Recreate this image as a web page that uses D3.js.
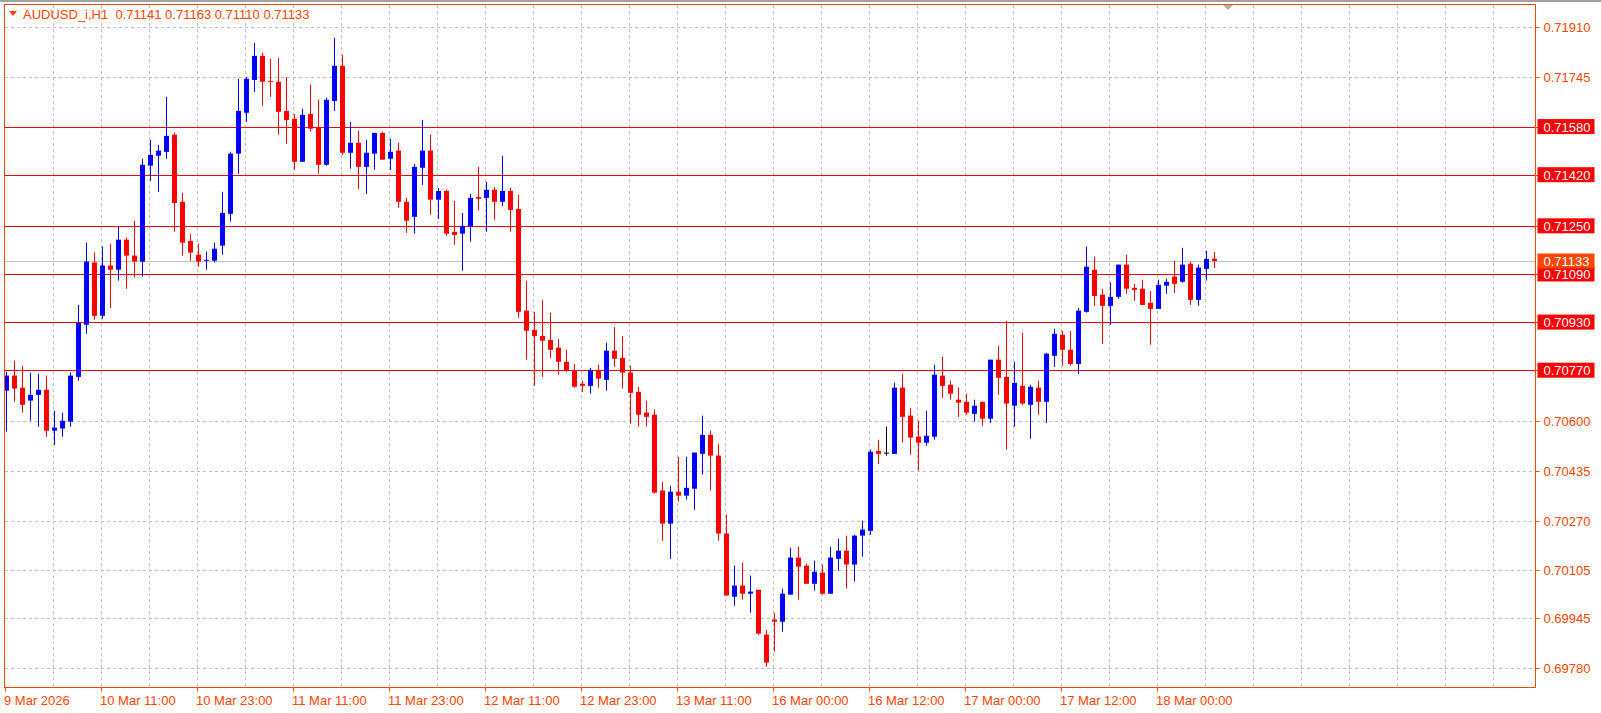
<!DOCTYPE html>
<html>
<head>
<meta charset="UTF-8">
<title>AUDUSD_i,H1</title>
<script src="https://d3js.org/d3.v7.min.js"></script>
<style>
    body { margin: 0; background: #fff; }
    text { font-family: "Liberation Sans", Arial, sans-serif; font-size: 13px; }
    .grid line { stroke: #c0c0c0; stroke-dasharray: 3 3; shape-rendering: crispEdges; }
</style>
</head>
<body>
<div id="chart"></div>
<script>
// OHLC in points (price * 100000), one hourly bar each
const opens = [70702,70752,70712,70669,70688,70705,70569,70576,70599,70748,70921,71128,70951,71118,71104,71204,71151,71131,71450,71483,71496,71553,71330,71200,71154,71134,71134,71184,71290,71490,71626,71735,71815,71732,71729,71632,71606,71463,71622,71576,71453,71665,71782,71493,71526,71446,71490,71559,71473,71500,71330,71280,71443,71500,71337,71366,71230,71224,71247,71346,71343,71370,71330,71366,71306,70968,70904,70884,70871,70845,70798,70768,70725,70718,70771,70738,70835,70811,70762,70698,70629,70622,70370,70260,70366,70353,70376,70492,70555,70486,70227,70017,70054,70027,70040,69891,69941,69934,70024,70147,70120,70060,70097,70027,70143,70170,70124,70220,70236,70502,70496,70492,70712,70619,70549,70529,70549,70752,70722,70672,70665,70625,70665,70609,70805,70748,70652,70718,70655,70712,70665,70818,70888,70838,70791,70964,71104,71021,70984,71014,71121,71044,71041,70994,70974,71051,71081,71064,71124,71004,71107,71141];
const highs = [70765,70802,70785,70762,70758,70752,70635,70629,70762,70987,71194,71161,71181,71191,71248,71211,71267,71473,71536,71519,71679,71559,71360,71224,71191,71164,71194,71363,71496,71739,71745,71858,71825,71805,71808,71745,71622,71639,71719,71669,71676,71875,71818,71596,71566,71536,71559,71563,71539,71526,71343,71456,71602,71553,71376,71370,71333,71293,71356,71446,71396,71380,71483,71376,71353,71068,70964,71004,70961,70874,70838,70791,70735,70778,70788,70861,70914,70884,70785,70715,70669,70639,70399,70386,70482,70482,70496,70619,70569,70526,70290,70120,70130,70087,70040,69907,69964,70044,70180,70183,70127,70137,70124,70183,70210,70220,70223,70270,70506,70539,70582,70728,70758,70645,70602,70635,70788,70815,70735,70712,70692,70672,70665,70805,70851,70934,70798,70894,70722,70735,70828,70908,70901,70901,70977,71181,71147,71041,71061,71121,71154,71057,71071,71034,71071,71074,71134,71177,71131,71121,71167,71163];
const lows = [70566,70665,70629,70602,70582,70549,70522,70549,70582,70735,70891,70938,70941,70977,71068,71041,71078,71081,71400,71363,71473,71230,71151,71134,71114,71104,71128,71154,71264,71423,71596,71695,71649,71679,71553,71523,71436,71463,71563,71423,71450,71632,71486,71440,71373,71356,71436,71470,71436,71310,71227,71224,71386,71287,71273,71217,71187,71101,71197,71300,71230,71270,71316,71230,70944,70805,70718,70748,70811,70755,70765,70712,70698,70692,70712,70702,70781,70709,70592,70582,70582,70360,70203,70143,70333,70340,70306,70423,70370,70203,70021,69987,70007,69964,69891,69784,69834,69901,70024,70007,70060,70037,70024,70027,70104,70044,70067,70150,70223,70459,70486,70492,70529,70489,70436,70519,70539,70678,70672,70615,70622,70599,70585,70595,70688,70506,70582,70655,70542,70622,70595,70781,70785,70785,70758,70961,70984,70858,70921,71007,71024,71001,70987,70855,70974,71024,71027,71061,70987,70984,71068,71110];
const closes = [70752,70709,70655,70688,70705,70569,70579,70602,70752,70928,71131,70951,71118,71104,71204,71151,71131,71453,71486,71500,71549,71326,71194,71161,71131,71137,71174,71293,71490,71632,71739,71815,71729,71729,71629,71602,71463,71619,71573,71453,71669,71782,71493,71526,71446,71493,71559,71470,71496,71330,71267,71446,71500,71337,71366,71224,71220,71250,71343,71340,71370,71330,71366,71303,70964,70901,70884,70868,70838,70798,70768,70715,70718,70771,70742,70835,70808,70762,70695,70622,70615,70363,70260,70366,70353,70379,70496,70555,70486,70227,70021,70054,70027,70034,69894,69798,69934,70027,70147,70117,70060,70100,70027,70147,70170,70124,70220,70240,70499,70492,70496,70712,70615,70546,70529,70552,70755,70718,70692,70662,70629,70652,70609,70805,70745,70659,70728,70659,70715,70665,70825,70891,70838,70791,70968,71114,71017,70984,71014,71121,71041,71037,70987,70974,71054,71064,71057,71121,71004,71111,71140,71133];

const priceTicks = [0.71910,0.71745,0.71580,0.71420,0.71250,0.71090,0.70930,0.70770,0.70600,0.70435,0.70270,0.70105,0.69945,0.69780];
const levelLines = [0.71580,0.71420,0.71250,0.71090,0.70930,0.70770];
const bidPrice = 0.71133;
const timeLabels = ["9 Mar 2026","10 Mar 11:00","10 Mar 23:00","11 Mar 11:00","11 Mar 23:00","12 Mar 11:00","12 Mar 23:00","13 Mar 11:00","16 Mar 00:00","16 Mar 12:00","17 Mar 00:00","17 Mar 12:00","18 Mar 00:00"];
const labelEvery = 12;
const gridEvery = 6;

const width = 1601, height = 713;
const plotLeft = 4.5, plotTop = 4.5, plotRight = 1535.5, plotBottom = 687.5;
const fg = "#ff4500";

const bars = opens.map((o, i) => ({
    i: i, o: o / 1e5, h: highs[i] / 1e5, l: lows[i] / 1e5, c: closes[i] / 1e5
}));

const svg = d3.select("#chart").append("svg")
    .attr("width", width).attr("height", height);

const x = d3.scaleLinear().domain([0, 151]).range([6, 1214]);
const y = d3.scaleLinear().domain([0.69780, 0.71910]).range([668, 27.3]);

// top grey strip
svg.append("rect").attr("x", 0).attr("y", 0).attr("width", width).attr("height", 2).attr("fill", "#a0a0a0");

// grid
const grid = svg.append("g").attr("class", "grid");
grid.selectAll(".h").data(priceTicks).join("line").attr("class", "h")
    .attr("x1", plotLeft).attr("x2", plotRight)
    .attr("y1", d => Math.round(y(d)) + 0.5).attr("y2", d => Math.round(y(d)) + 0.5);
grid.selectAll(".v").data(d3.range(gridEvery, 190, gridEvery).filter(d => x(d) < plotRight)).join("line").attr("class", "v")
    .attr("x1", d => Math.round(x(d)) - 0.5).attr("x2", d => Math.round(x(d)) - 0.5)
    .attr("y1", plotTop).attr("y2", plotBottom);

// level lines
svg.append("g").selectAll("line").data(levelLines).join("line")
    .attr("x1", plotLeft).attr("x2", plotRight)
    .attr("y1", d => Math.round(y(d)) + 0.5).attr("y2", d => Math.round(y(d)) + 0.5)
    .attr("stroke", "#ff0000").attr("stroke-width", 1.2);

svg.append("line")
    .attr("x1", plotLeft).attr("x2", plotRight)
    .attr("y1", Math.round(y(bidPrice)) + 0.5).attr("y2", Math.round(y(bidPrice)) + 0.5)
    .attr("stroke", "#c0c0c0");

// candles
const colorOf = d => d.c > d.o ? "#0000ff" : (d.c < d.o ? "#ff0000" : "#000000");
const candles = svg.append("g").selectAll("g").data(bars).join("g");
candles.append("line")
    .attr("x1", d => Math.round(x(d.i)) + 0.5).attr("x2", d => Math.round(x(d.i)) + 0.5)
    .attr("y1", d => y(d.h)).attr("y2", d => y(d.l))
    .attr("stroke", colorOf).attr("stroke-width", 1);
candles.append("rect")
    .attr("x", d => Math.round(x(d.i)) - 2)
    .attr("y", d => y(Math.max(d.o, d.c)))
    .attr("width", 5)
    .attr("height", d => Math.max(1, Math.abs(y(d.o) - y(d.c))))
    .attr("fill", colorOf);

// frame
svg.append("rect").attr("x", plotLeft).attr("y", plotTop)
    .attr("width", plotRight - plotLeft).attr("height", plotBottom - plotTop)
    .attr("fill", "none").attr("stroke", fg);

// price axis
const yAxis = svg.append("g").attr("transform", `translate(${plotRight},0)`);
yAxis.selectAll(".tk").data(priceTicks).join("line").attr("class", "tk")
    .attr("x1", 0).attr("x2", 4)
    .attr("y1", d => Math.round(y(d)) + 0.5).attr("y2", d => Math.round(y(d)) + 0.5)
    .attr("stroke", fg);
yAxis.selectAll(".lb").data(priceTicks).join("text").attr("class", "lb")
    .attr("x", 8).attr("y", d => y(d) + 5)
    .attr("fill", fg).text(d => d.toFixed(5));

// price labels
const tags = levelLines.map(p => ({ p: p, bg: "#ff0000" })).concat([{ p: bidPrice, bg: "#ff4500" }]);
const tag = yAxis.selectAll(".tag").data(tags).join("g").attr("class", "tag");
tag.append("rect").attr("x", 2).attr("y", d => y(d.p) - 7.5)
    .attr("width", 57).attr("height", 15).attr("fill", d => d.bg);
tag.append("text").attr("x", 8).attr("y", d => y(d.p) + 5)
    .attr("fill", "#ffffff").text(d => d.p.toFixed(5));

// time axis
const xAxis = svg.append("g").attr("transform", `translate(0,${plotBottom})`);
xAxis.selectAll("line").data(timeLabels).join("line")
    .attr("x1", (d, k) => Math.round(x(k * labelEvery)) - 0.5).attr("x2", (d, k) => Math.round(x(k * labelEvery)) - 0.5)
    .attr("y1", 0).attr("y2", 4).attr("stroke", fg);
xAxis.selectAll("text").data(timeLabels).join("text")
    .attr("x", (d, k) => x(k * labelEvery) - 2).attr("y", 17)
    .attr("fill", fg).text(d => d);

// header
svg.append("path").attr("d", "M9,11 L17,11 L13,16 Z").attr("fill", fg);
svg.append("text").attr("x", 23).attr("y", 19).attr("fill", fg)
    .attr("xml:space", "preserve")
    .text("AUDUSD_i,H1  0.71141 0.71163 0.71110 0.71133");

// shift marker
svg.append("path").attr("d", "M1223,5 L1233,5 L1228,10 Z").attr("fill", "#b0b0b0");
</script>
</body>
</html>
